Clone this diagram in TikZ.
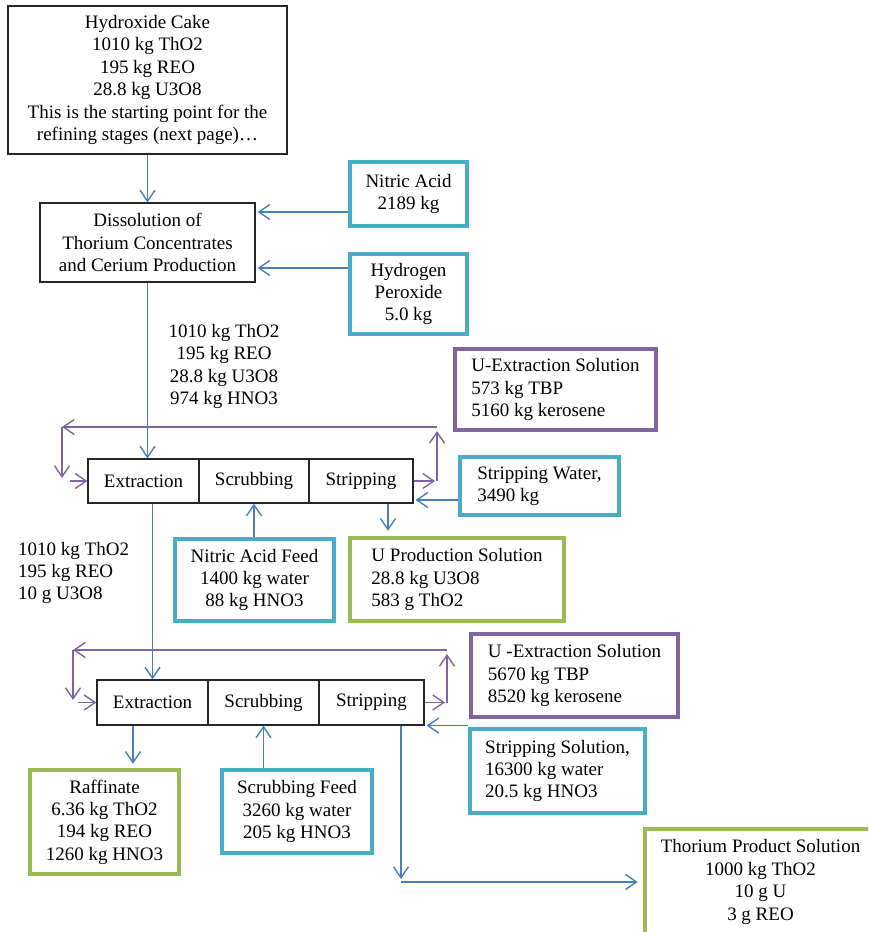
\documentclass[tikz,border=0pt]{standalone}
\usepackage{fontspec}
\setmainfont{Liberation Serif}
\usetikzlibrary{arrows.meta,calc}
\definecolor{aqualine}{HTML}{4BACC6}
\definecolor{violetline}{HTML}{8064A2}
\definecolor{oliveline}{HTML}{9BBB59}
\definecolor{flowblue}{HTML}{4A7EBB}
\begin{document}
\begin{tikzpicture}[x=1pt,y=-1pt,
  every node/.append style={font=\fontsize{19}{22.4}\selectfont, inner sep=0pt},
  % a strut on the first line keeps stacked text centred like the boxes' line boxes
  lines/.style={execute at begin node={\rule{0pt}{17pt}}},
  blackbox/.style={draw=black!85, line width=1.2pt, align=center},
  aquabox/.style={draw=aqualine, line width=4.5pt, lines},
  violetbox/.style={draw=violetline, line width=4.5pt, lines},
  olivebox/.style={draw=oliveline, line width=4.5pt, lines},
  feedarrow/.style={draw=flowblue, line width=1.4pt, -{Straight Barb[length=11pt,width=15pt]}},
  recycle/.style={draw=violetline, line width=1.4pt, -{Straight Barb[length=11pt,width=15pt]}}
]
\useasboundingbox (0,0) rectangle (868,932);
\clip (0,0) rectangle (868,932);

% ---- head of the flowsheet
\node[blackbox, lines, minimum width=279, minimum height=148] (cake) at (147.5,80)
  {Hydroxide Cake\\1010 kg ThO2\\195 kg REO\\28.8 kg U3O8\\This is the starting point for the\\refining stages (next page)…};
\node[blackbox, lines, minimum width=215, minimum height=79] (dis) at (147.5,242.5)
  {Dissolution of\\Thorium Concentrates\\and Cerium Production};
\node[aquabox, align=center, minimum width=117, minimum height=64] (nit) at (408.5,194)
  {Nitric Acid\\2189 kg};
\node[aquabox, align=center, minimum width=117, minimum height=80] (hp) at (408.5,294)
  {Hydrogen\\Peroxide\\5.0 kg};
\node[lines, align=center] (feedA) at (224,366.5)
  {1010 kg ThO2\\195 kg REO\\28.8 kg U3O8\\974 kg HNO3};

% ---- first extraction cycle
\node[violetbox, align=left, minimum width=201, minimum height=81] (uexA) at (555.5,389.5)
  {U-Extraction Solution\\573 kg TBP\\5160 kg kerosene};
\node[blackbox, minimum width=111, minimum height=44] (ext1) at (143.5,481) {Extraction};
\node[blackbox, minimum width=110, minimum height=44] (scr1) at (254,481) {Scrubbing};
\node[blackbox, minimum width=104, minimum height=44] (str1) at (361,481) {Stripping};
\node[aquabox, align=left, minimum width=159, minimum height=58] (sw) at (539.5,486)
  {Stripping Water,\\3490 kg};
\node[aquabox, align=center, minimum width=159, minimum height=82] (naf) at (254.5,580)
  {Nitric Acid Feed\\1400 kg water\\88 kg HNO3};
\node[olivebox, align=left, minimum width=214, minimum height=83] (upr) at (457,579.5)
  {U Production Solution\\28.8 kg U3O8\\583 g ThO2};
\node[lines, align=left, anchor=west] (feedB) at (18,573)
  {1010 kg ThO2\\195 kg REO\\10 g U3O8};

% ---- second extraction cycle
\node[violetbox, align=left, minimum width=207, minimum height=83] (uexB) at (574.5,675.5)
  {U -Extraction Solution\\5670 kg TBP\\8520 kg kerosene};
\node[blackbox, minimum width=111, minimum height=45] (ext2) at (152.5,702.5) {Extraction};
\node[blackbox, minimum width=111, minimum height=45] (scr2) at (263.5,702.5) {Scrubbing};
\node[blackbox, minimum width=105, minimum height=45] (str2) at (371.5,702.5) {Stripping};
\node[aquabox, align=left, minimum width=175, minimum height=84] (ss) at (557.5,771)
  {Stripping Solution,\\16300 kg water\\20.5 kg HNO3};
\node[olivebox, align=center, minimum width=149, minimum height=104] (raf) at (104.5,822)
  {Raffinate\\6.36 kg ThO2\\194 kg REO\\1260 kg HNO3};
\node[aquabox, align=center, minimum width=150, minimum height=83] (sf) at (297,811.5)
  {Scrubbing Feed\\3260 kg water\\205 kg HNO3};
\node[olivebox, align=center, minimum width=231, minimum height=106] (tp) at (760.5,882)
  {Thorium Product Solution\\1000 kg ThO2\\10 g U\\3 g REO};

% ---- process streams
\draw[feedarrow] (cake.south) -- (dis.north);
\coordinate (nitIn) at ($(nit.west)+(0,18)$);
\draw[feedarrow] (nitIn) -- ($(nitIn -| dis.east)+(2,0)$);
\coordinate (hpIn) at ($(hp.west)+(0,-26)$);
\draw[feedarrow] (hpIn) -- ($(hpIn -| dis.east)+(2,0)$);
\draw[feedarrow] (dis.south) -- (dis.south |- ext1.north);
\draw[feedarrow] (ext2.north |- ext1.south) -- (ext2.north);
\draw[feedarrow] (scr1.south |- naf.north) -- (scr1.south);
\coordinate (uOut) at ($(str1.south)+(27,0)$);
\draw[feedarrow, shorten >=5pt] (uOut) -- (uOut |- upr.north);
\coordinate (swIn) at ($(sw.west)+(0,14)$);
\draw[feedarrow] (swIn) -- ($(swIn -| str1.east)+(2,0)$);

\coordinate (rafOut) at ($(ext2.south)+(-19.5,0)$);
\draw[feedarrow, shorten >=4pt] (rafOut) -- (rafOut |- raf.north);
\draw[feedarrow] (scr2.south |- sf.north) -- (scr2.south);
\coordinate (ssIn) at ($(str2.south east)+(2,0)$);
\draw[feedarrow] (ssIn -| ss.west) -- (ssIn);
\coordinate (thDown) at ($(str2.south)+(29.5,0)$);
\coordinate (thTurn) at (thDown |- tp.west);
\draw[feedarrow] (thDown) -- ($(thTurn)+(0,-3)$);
\draw[feedarrow, shorten >=5pt] (thTurn) -- (tp.west);

% ---- solvent recycle loops
\coordinate (r1ne) at (437,427);
\coordinate (r1nw) at (62,427);
\coordinate (r1sw) at (62,478);
\coordinate (r1in) at (70,481);
\coordinate (r1out) at (437,481);
\draw[recycle] (str1.east) -- ($(r1out)+(-2,0)$);
\draw[recycle] (r1out) -- ($(r1ne)+(0,4)$);
\draw[recycle] (r1ne) -- (r1nw);
\draw[recycle] (r1nw) -- (r1sw);
\draw[recycle] (r1in) -- (ext1.west);

\coordinate (r2ne) at (447,650);
\coordinate (r2nw) at (73,650);
\coordinate (r2sw) at (73,700);
\coordinate (r2in) at (78,702.5);
\coordinate (r2out) at (447,702.5);
\draw[recycle] (str2.east) -- ($(r2out)+(-2,0)$);
\draw[recycle] (r2out) -- ($(r2ne)+(0,4)$);
\draw[recycle] (r2ne) -- (r2nw);
\draw[recycle] (r2nw) -- (r2sw);
\draw[recycle] (r2in) -- (ext2.west);
\end{tikzpicture}
\end{document}
